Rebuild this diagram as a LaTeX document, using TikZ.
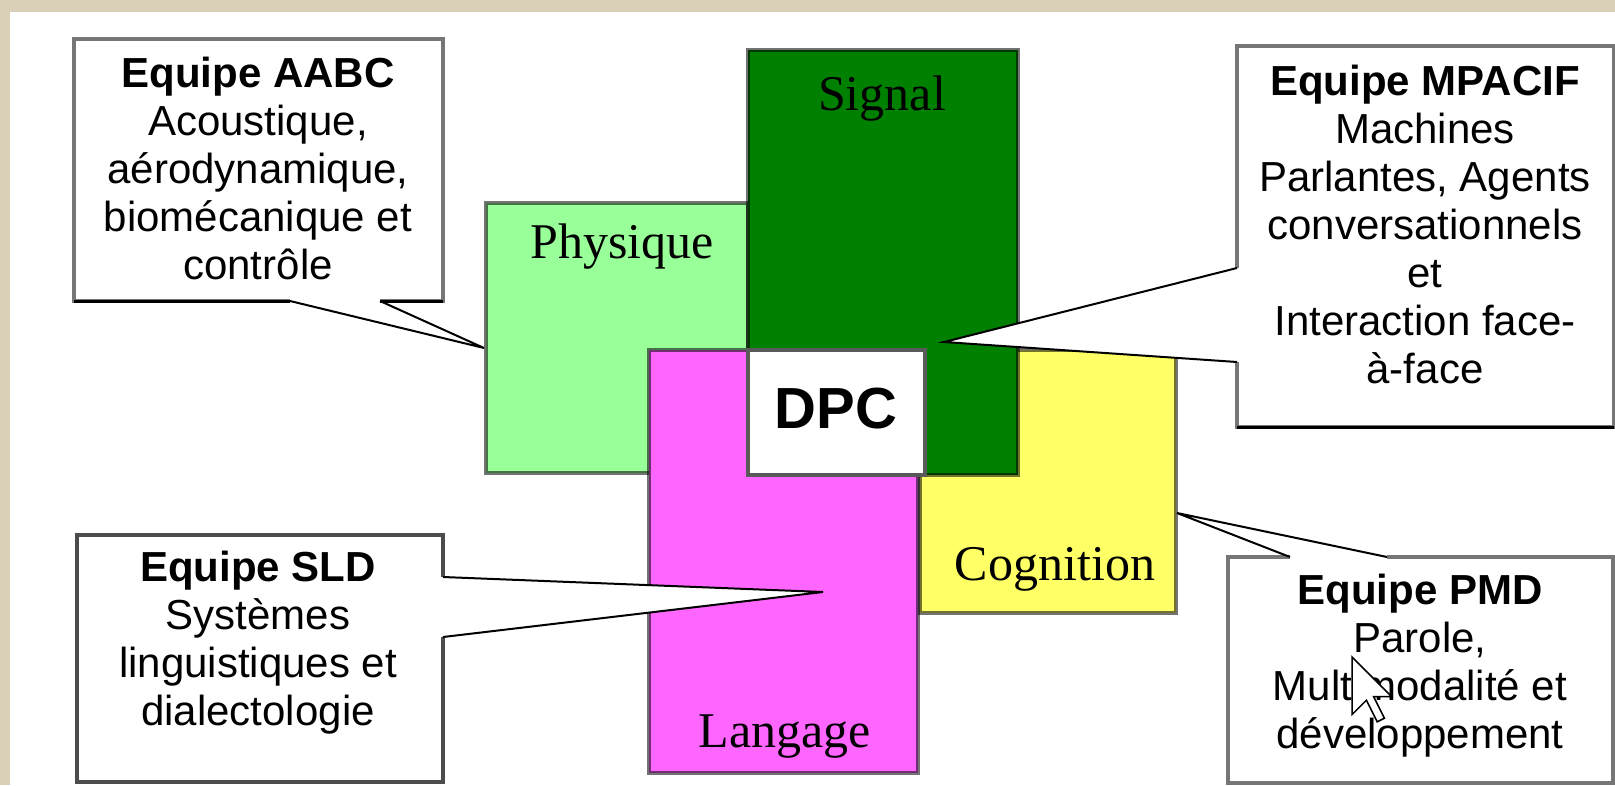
\documentclass[tikz,border=0pt]{standalone}
\usepackage{fontspec}
\newfontfamily\callsans{Liberation Sans}
\newfontfamily\labserif{Liberation Serif}
\definecolor{beige}{RGB}{218,208,184}
\definecolor{lgreen}{HTML}{99FF99}
\definecolor{dgreen}{HTML}{008000}
\definecolor{pinkm}{HTML}{FF66FF}
\definecolor{yell}{HTML}{FFFF66}
\definecolor{boxgray}{RGB}{118,118,118}
\newcommand\mylines[1]{\vtop{\halign{\hfil##\hfil\cr#1\crcr}}}
\begin{document}
\begin{tikzpicture}[x=1pt,y=-1pt,
  domrect/.style={draw=black,draw opacity=0.55,line width=4pt},
  callbox/.style={draw=boxgray,line width=4.5pt},
  callbottom/.style={draw=black,line width=3pt},
  tailline/.style={draw=black,line width=2pt,line join=miter},
  calltext/.style={anchor=base,inner sep=0pt,font=\callsans\fontsize{42}{48}\selectfont},
  domlabel/.style={anchor=base,inner sep=0pt,font=\labserif\fontsize{50}{56}\selectfont},
  ]
\useasboundingbox (0,0) rectangle (1615,785);
\fill[beige] (0,0) rectangle (1615,785);
\fill[white] (10,12) rectangle (1615,785);

% domain rectangles
\path[fill=lgreen,domrect] (486,203) rectangle (748,473);
\path[fill=pinkm,domrect] (649,350) rectangle (918,773);
\path[fill=yell,domrect] (920,350) rectangle (1176,613);
\path[fill=dgreen,domrect] (748,50) rectangle (1018,475);
\path[fill=white,draw=black!65,line width=4pt] (748,350) rectangle (925,475);

\node[domlabel] (physique) at (622,258) {Physique};
\node[domlabel] (signal) at (882,110) {Signal};
\node[domlabel] (cognition) at (1055,580) {Cognition};
\node[domlabel] (langage) at (785,747) {Langage};
\node[anchor=base,inner sep=0pt,font=\callsans\bfseries\fontsize{58}{64}\selectfont] (dpc) at (836,428) {DPC};

% callout AABC
\coordinate (tipA) at (484,348);
\fill[white] (74,39) -- (443,39) -- (443,301) -- (380,301) -- (tipA) -- (290,301) -- (74,301) -- cycle;
\draw[callbox] (290,301) -- (74,301) -- (74,39) -- (443,39) -- (443,301) -- (380,301);
\draw[callbottom] (74,301) -- (290,301) (380,301) -- (443,301);
\draw[tailline] (290,301) -- (tipA) -- (380,301);
\node[calltext] (aabc) at (258,87) {\mylines{\textbf{Equipe AABC}\cr Acoustique,\cr aérodynamique,\cr biomécanique et\cr contrôle}};

% callout MPACIF
\coordinate (tipM) at (944,342);
\fill[white] (1237,46) -- (1614,46) -- (1614,427) -- (1237,427) -- (1237,362) -- (tipM) -- (1237,268) -- cycle;
\draw[callbox] (1237,268) -- (1237,46) -- (1614,46) -- (1614,427) -- (1237,427) -- (1237,362);
\draw[callbottom] (1237,427) -- (1614,427);
\draw[tailline] (1237,268) -- (tipM) -- (1237,362);
\node[calltext] (mpacif) at (1425,95) {\mylines{\textbf{Equipe MPACIF}\cr Machines\cr Parlantes, Agents\cr conversationnels\cr et\cr Interaction face-\cr à-face}};

% callout SLD
\coordinate (tipS) at (823,592);
\fill[white] (77,535) -- (443,535) -- (443,577) -- (tipS) -- (443,637) -- (443,782) -- (77,782) -- cycle;
\draw[callbox,draw=black!70] (443,577) -- (443,535) -- (77,535) -- (77,782) -- (443,782) -- (443,637);
\draw[tailline] (443,577) -- (tipS) -- (443,637);
\node[calltext] (sld) at (258,581) {\mylines{\textbf{Equipe SLD}\cr Systèmes\cr linguistiques et\cr dialectologie}};

% callout PMD
\coordinate (tipP) at (1177,513);
\fill[white] (1228,557) -- (1290,557) -- (tipP) -- (1387,557) -- (1613,557) -- (1613,783) -- (1228,783) -- cycle;
\draw[callbox] (1290,557) -- (1228,557) -- (1228,783) -- (1613,783) -- (1613,557) -- (1387,557);
\draw[tailline] (1290,557) -- (tipP) -- (1387,557);
\node[calltext] (pmd) at (1420,604) {\mylines{\textbf{Equipe PMD}\cr Parole,\cr Multimodalité et\cr développement}};

% mouse pointer
\begin{scope}[shift={(1352,657)},x=3.6pt,y=-3.6pt]
\path[fill=white,draw=black,line width=1.5pt] (0,0) -- (0,16) -- (4,12) -- (7,18) -- (9,17) -- (6,11) -- (11,11) -- cycle;
\end{scope}
\end{tikzpicture}
\end{document}
